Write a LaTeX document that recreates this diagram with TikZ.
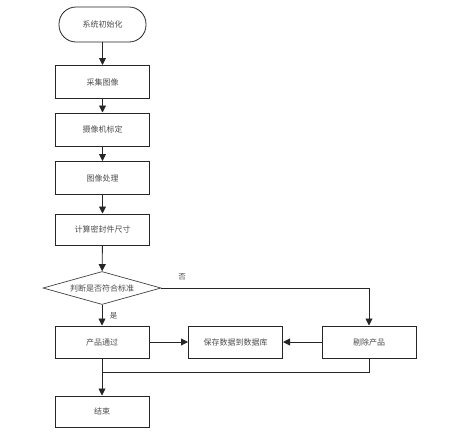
\documentclass[tikz,border=0pt]{standalone}
\usepackage{fontspec}
\newfontfamily\cjk{Noto Sans CJK SC}
\usetikzlibrary{arrows.meta,shapes.geometric}
\begin{document}
\begin{tikzpicture}[x=1pt,y=-1pt,
  every node/.style={font=\cjk\fontsize{8}{9}\selectfont, text=black!70},
  procbox/.style={draw=black!85, line width=1pt, minimum width=94pt, minimum height=33pt, inner sep=0pt},
  termbox/.style={draw=black!85, line width=0.8pt, rounded corners=17pt, minimum width=87pt, minimum height=35pt, inner sep=0pt},
  decbox/.style={draw=black!75, line width=0.7pt, diamond, aspect=3.6, minimum width=118pt, minimum height=33pt, inner sep=0pt},
  conn/.style={draw=black!85, line width=0.9pt},
  arr/.style={conn, -{Triangle[width=7pt,length=7pt]}},
  lbl/.style={font=\cjk\fontsize{7.5}{8}\selectfont, text=black!70}
]
\useasboundingbox (0,0) rectangle (470,432);
\node[termbox] (start) at (102.5,24.5) {系统初始化};
\node[procbox] (s1) at (102.5,82) {采集图像};
\node[procbox] (s2) at (102.5,129.5) {摄像机标定};
\node[procbox] (s3) at (102.5,178) {图像处理};
\node[procbox, minimum height=31pt] (s4) at (102.5,229.5) {计算密封件尺寸};
\node[decbox] (d) at (102,288) {判断是否符合标准};
\node[procbox, minimum height=32pt] (pass) at (102,342) {产品通过};
\node[procbox, minimum height=32pt] (save) at (235.5,342) {保存数据到数据库};
\node[procbox, minimum height=32pt] (rej) at (369,342) {剔除产品};
\node[procbox, minimum height=31pt] (end) at (102,411.5) {结束};
\coordinate (j) at (102,372);
\coordinate (rc) at (369,288);
\coordinate (rj) at (369,372);
\draw[arr] (start) -- (s1);
\draw[arr] (s1) -- (s2);
\draw[arr] (s2) -- (s3);
\draw[arr] (s3) -- (s4);
\draw[arr] (s4) -- (d);
\draw[arr] (d) -- node[lbl, right=4pt, pos=0.55] {是} (pass);
\draw[arr] (d.east) -- (rc) -- (rej.north);
\node[lbl] (no) at (182,277) {否};
\draw[arr] (pass) -- (save);
\draw[arr] (rej) -- (save);
\draw[conn] (rej.south) -- (rj) -- (j);
\draw[arr] (pass.south) -- (end.north);
\end{tikzpicture}
\end{document}
